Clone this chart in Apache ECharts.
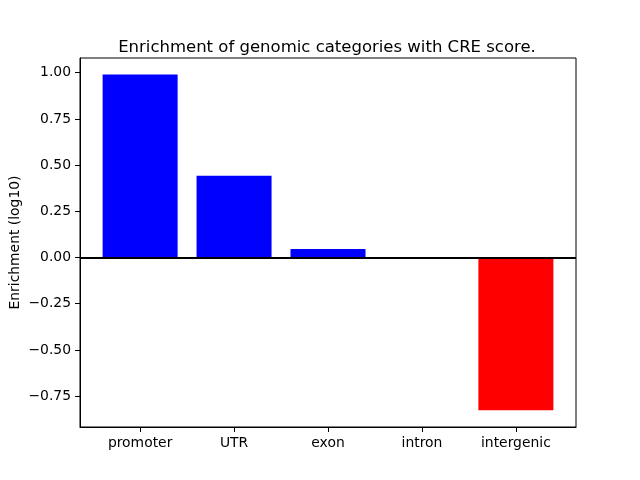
<!DOCTYPE html>
<html><head><meta charset="utf-8">
<script src="https://cdn.jsdelivr.net/npm/echarts@6/dist/echarts.min.js"></script>
<style>html,body{margin:0;padding:0;background:#fff}#c{width:640px;height:480px}</style>
</head><body><div id="c"></div>
<script>
const categories = ['promoter', 'UTR', 'exon', 'intron', 'intergenic'];
const enrichment = [0.99, 0.443, 0.046, 0.002, -0.826];
const yTicks = [-0.75, -0.5, -0.25, 0, 0.25, 0.5, 0.75, 1.0];
const xTicks = [0, 1, 2, 3, 4];

const font = 'DejaVu Sans';
const fmt = v => v.toFixed(2).replace('-', '\u2212');
const chart = echarts.init(document.getElementById('c'), null, {renderer: 'canvas'});
chart.setOption({
  animation: false,
  backgroundColor: '#fff',
  title: {
    text: 'Enrichment of genomic categories with CRE score.',
    left: 322, top: 34, textAlign: 'center',
    textStyle: {fontFamily: font, fontSize: 16.5, fontWeight: 'normal', color: '#000'}
  },
  grid: {left: 80, right: 64, top: 58, bottom: 53, containLabel: false, outerBoundsMode: 'none',
    show: true, borderColor: '#000', borderWidth: 1, backgroundColor: 'transparent'},
  xAxis: {
    type: 'value', min: -0.64, max: 4.64,
    splitLine: {show: false},
    axisLine: {show: true, onZero: false, lineStyle: {color: '#000', width: 1}},
    axisTick: {show: true, length: 5, customValues: xTicks, lineStyle: {color: '#000'}},
    axisLabel: {customValues: xTicks, margin: 9, color: '#000', fontFamily: font, fontSize: 13.9,
      formatter: v => categories[Math.round(v)] || ''}
  },
  yAxis: {
    type: 'value', min: -0.917, max: 1.0795,
    name: 'Enrichment (log10)', nameLocation: 'middle', nameGap: 58, nameMoveOverlap: false,
    nameTextStyle: {fontFamily: font, fontSize: 13.9, color: '#000'},
    splitLine: {show: false},
    axisLine: {show: true, onZero: false, lineStyle: {color: '#000', width: 1}},
    axisTick: {show: true, length: 5, customValues: yTicks, lineStyle: {color: '#000'}},
    axisLabel: {customValues: yTicks, margin: 9, color: '#000', fontFamily: font, fontSize: 13.9, formatter: fmt}
  },
  series: [{
    type: 'bar',
    barWidth: 75,
    data: enrichment.map((v, i) => ({value: [i, v], itemStyle: {color: v >= 0 ? '#0000ff' : '#ff0000'}})),
    markLine: {
      silent: true, symbol: 'none', label: {show: false},
      lineStyle: {color: '#000', width: 2, type: 'solid'},
      data: [{yAxis: 0}]
    }
  }]
});
</script></body></html>
